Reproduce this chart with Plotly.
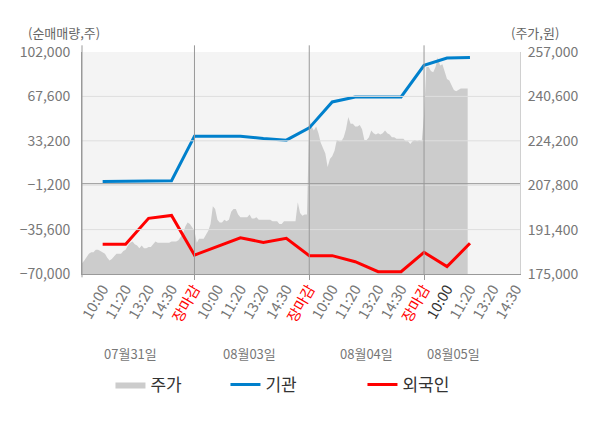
import numpy as np
import plotly.graph_objects as go

FONT = "Noto Sans CJK KR"
BLUE = "#0080cc"
RED = "#ff0000"
AREA = "#cccccc"

# x tick labels (one per slot), day labels
TICK_LABELS = ["10:00", "11:20", "13:20", "14:30", "장마감",
               "10:00", "11:20", "13:20", "14:30", "장마감",
               "10:00", "11:20", "13:20", "14:30", "장마감",
               "10:00", "11:20", "13:20", "14:30"]
DATES = ["07월31일", "08월03일", "08월04일", "08월05일"]
DATE_POS = [2.2, 7.4, 12.5, 16.3]

# net buying (shares), one value per time slot
INST = [1700, 1700, 1900, 2200, 36800,
        36800, 36700, 35000, 33700, 43200,
        63300, 67200, 67200, 67200, 91700,
        97300, 97700]
FOREIGN = [-47000, -47000, -26900, -24600, -55300,
           -48800, -41900, -45500, -42400, -55800,
           -55800, -60500, -68200, -68200, -53200,
           -64300, -46200]

# intraday price (won), 50 samples per session
PRICE_D1 = [180000, 179000, 180000, 181500, 182500, 183000, 183000, 184000, 184000, 183500,
            183000, 182500, 181000, 180000, 180500, 181500, 182500, 182500, 182500, 183500,
            184000, 185500, 186500, 187000, 186000, 185500, 184500, 185500, 184500, 184500,
            185000, 185000, 186000, 187000, 186500, 186500, 186500, 186500, 186500, 186500,
            187000, 187000, 187000, 187500, 189000, 190000, 192500, 194000, 193500, 192000]
PRICE_D2 = [191000, 186500, 188000, 188000, 188000, 189500, 191000, 193500, 200000, 199000,
            195000, 194000, 194000, 195000, 194500, 195000, 198000, 199000, 199000, 197000,
            196000, 196000, 196000, 196000, 197000, 195500, 195500, 196000, 195000, 195000,
            195000, 195000, 195000, 195000, 194500, 194500, 194500, 193500, 193500, 194500,
            194500, 194500, 194500, 194500, 194500, 201500, 197500, 196500, 197000, 197000]
PRICE_D3 = [232000, 229500, 228000, 229500, 227000, 223500, 221500, 219500, 214500, 217500,
            218500, 220500, 224500, 224000, 224000, 225500, 228500, 233000, 230500, 230500,
            229500, 229500, 230000, 228500, 224500, 224500, 225500, 228000, 227000, 226500,
            227000, 226500, 227000, 228000, 227000, 226500, 225500, 225500, 225000, 225000,
            225000, 225000, 224000, 224000, 223000, 224000, 224500, 224000, 224500, 224000]
PRICE_D4 = [233500, 251500, 251500, 250000, 249500, 251500, 255000, 252000, 252500, 250000,
            247000, 246500, 245000, 243000, 242500, 243000, 243500, 243500, 243500, 243500]

LEFT_TICKS = [-70000, -35600, -1200, 33200, 67600, 102000]
RIGHT_TICKS = [175000, 191400, 207800, 224200, 240600, 257000]
DAY_BOUNDS = [5, 10, 15]

price = PRICE_D1 + PRICE_D2 + PRICE_D3 + PRICE_D4
px_ = np.arange(len(price)) * 0.1
lx = np.arange(1, len(INST) + 1)

ticktext = []
for i, t in enumerate(TICK_LABELS):
    if t == "장마감":
        ticktext.append(f'<span style="color:{RED}">{t}</span>')
    elif i == 15:
        ticktext.append('<span style="color:#333333">' + t + '</span>')
    else:
        ticktext.append(t)

fig = go.Figure()
fig.add_trace(go.Scatter(
    x=px_, y=price, name="주가", mode="lines", yaxis="y",
    line=dict(width=0, color=AREA), fill="tozeroy", fillcolor=AREA,
    hoverinfo="skip", legendwidth=70,
))
fig.add_trace(go.Scatter(
    x=lx, y=INST, name="기관", mode="lines", yaxis="y2",
    line=dict(width=3, color=BLUE), legendwidth=92,
))
fig.add_trace(go.Scatter(
    x=lx, y=FOREIGN, name="외국인", mode="lines", yaxis="y2",
    line=dict(width=3, color=RED), legendwidth=70,
))

shapes = []
# horizontal grid drawn over the price area
for v in RIGHT_TICKS[1:-1]:
    shapes.append(dict(type="line", xref="paper", x0=0, x1=1, yref="y", y0=v, y1=v,
                       line=dict(color="#dedede", width=1), layer="above"))
shapes.append(dict(type="line", xref="paper", x0=0, x1=1, yref="y2", y0=0, y1=0,
                   line=dict(color="#999999", width=1), layer="above"))
for b in DAY_BOUNDS:
    shapes.append(dict(type="line", xref="x", x0=b, x1=b, yref="paper", y0=0, y1=1.03,
                       line=dict(color="#999999", width=1), layer="above"))
shapes.append(dict(type="line", xref="paper", x0=0, x1=0, yref="paper", y0=-0.015, y1=1.03,
                   line=dict(color="#999999", width=1), layer="above"))

annotations = [
    dict(text="(순매매량,주)", xref="paper", yref="paper", x=-0.04, y=1.086,
         xanchor="center", yanchor="middle",
         showarrow=False, font=dict(size=13, color="#666666", family=FONT)),
    dict(text="(주가,원)", xref="paper", yref="paper", x=1.035, y=1.086,
         xanchor="center", yanchor="middle",
         showarrow=False, font=dict(size=13, color="#666666", family=FONT)),
]
for d, p in zip(DATES, DATE_POS):
    annotations.append(dict(text=d, xref="x", yref="paper", x=p, y=-0.356,
                            xanchor="center", yanchor="middle",
                            showarrow=False, font=dict(size=13, color="#777777", family=FONT)))

# page body has an 8px margin, so the figure is sized and padded to compensate
fig.update_layout(
    width=592, height=420,
    margin=dict(l=68, r=80, t=44, b=154),
    paper_bgcolor="#ffffff",
    plot_bgcolor="#f4f4f4",
    font=dict(family=FONT, color="#666666"),
    showlegend=True,
    legend=dict(orientation="h", x=0.065, xanchor="left", y=-0.5, yanchor="middle",
                font=dict(size=17, color="#333333", family=FONT), itemwidth=30),
    xaxis=dict(
        range=[0.1, 19.18], tickmode="array", tickvals=list(range(1, 20)), ticktext=ticktext,
        tickangle=-60, tickfont=dict(size=14.5, color="#777777", family=FONT),
        showgrid=False, zeroline=False, showline=True, linecolor="#999999",
        ticks="", minor=dict(tick0=0, dtick=5, ticks="outside", ticklen=5, tickcolor="#999999"),
    ),
    yaxis=dict(
        side="right", range=[175000, 257000], tickvals=RIGHT_TICKS,
        tickformat=",", showgrid=False, zeroline=False,
        showline=True, linecolor="#d0d0d0",
        tickfont=dict(size=14, color="#777777", family=FONT), ticklabelstandoff=4,
    ),
    yaxis2=dict(
        side="left", overlaying="y", range=[-70000, 102000], tickvals=LEFT_TICKS,
        tickformat=",", showgrid=False, zeroline=False,
        showline=True, linecolor="#999999",
        tickfont=dict(size=14, color="#777777", family=FONT), ticklabelstandoff=8,
    ),
    shapes=shapes,
    annotations=annotations,
)

fig.write_html("out.html")
